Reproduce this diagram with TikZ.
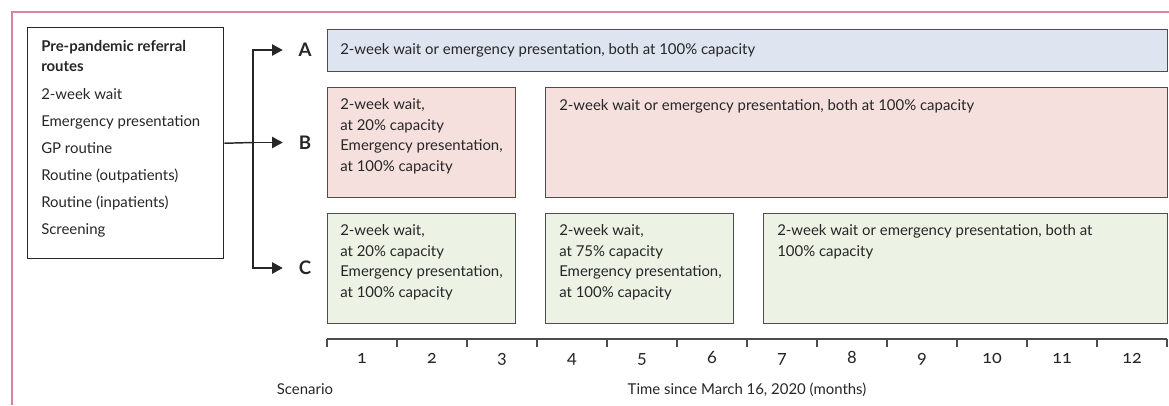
\documentclass[tikz,border=0pt]{standalone}
\usepackage{fontspec}
\setmainfont{Lato}
\usetikzlibrary{arrows.meta}
\definecolor{frameC}{HTML}{D9849C}
\definecolor{edgeC}{HTML}{4D4D4D}
\definecolor{fillA}{HTML}{DEE4F0}
\definecolor{fillB}{HTML}{F5E0DE}
\definecolor{fillC}{HTML}{ECF3E5}

\begin{document}
\begin{tikzpicture}
    [x=0.75pt,y=-0.75pt,
     every node/.style={font=\fontsize{11.2}{15.4}\selectfont, text=black!85, inner sep=0pt},
     bar/.style={draw=edgeC, line width=1.1pt, anchor=north west},
     bartext/.style={anchor=base west, align=left},
     scen/.style={font=\fontsize{14}{16}\selectfont\bfseries, minimum width=33pt},
     link/.style={line width=1.1pt, draw=black!85},
     tip/.style={link, -{Triangle[length=8pt,width=8.5pt]}},
     axis/.style={draw=edgeC, line width=1.1pt}]
    \useasboundingbox (0,0) rectangle (1169,405);
    \draw[frameC, line width=1.1pt] (12,405) -- (12,12) -- (1169,12);
    \node[draw=black!85, line width=1.1pt, anchor=north west, minimum width=147pt, minimum height=173.25pt] (routes) at (27,27) {};
    \node[anchor=base west, align=left, font=\fontsize{11.2}{15}\selectfont\bfseries] (title) at (41,71.5) {Pre-pandemic referral\\routes};
    \foreach \r [count=\i] in {2-week wait, Emergency presentation, GP routine, Routine (outpatients), Routine (inpatients), Screening}
    \node[anchor=base west] (r\i) at (41,72.5+27*\i) {\r};
    \foreach \n/\x/\y/\w/\h/\c in {barA/327/29/840/42/fillA, barB1/327/87/188/110/fillB, barB2/545/87/622/110/fillB, barC1/327/213/188/110/fillC, barC2/545/213/188/110/fillC, barC3/763/213/404/110/fillC}
    \node[bar, fill=\c, minimum width=\w*0.75pt, minimum height=\h*0.75pt] (\n) at (\x,\y) {};
    \node[bartext] (tA) at (340,54) {2-week wait or emergency presentation, both at 100\% capacity};
    \node[bartext] (tB1) at (340,171.5) {2-week wait,\\at 20\% capacity\\Emergency presentation,\\at 100\% capacity};
    \node[bartext] (tB2) at (559,110) {2-week wait or emergency presentation, both at 100\% capacity};
    \node[bartext] (tC1) at (340,297.5) {2-week wait,\\at 20\% capacity\\Emergency presentation,\\at 100\% capacity};
    \node[bartext] (tC2) at (559,297.5) {2-week wait,\\at 75\% capacity\\Emergency presentation,\\at 100\% capacity};
    \node[bartext] (tC3) at (777,256.5) {2-week wait or emergency presentation, both at\\100\% capacity};
    \node[scen] (sA) at (305,50) {A};
    \node[scen] (sB) at (305,142.5) {B};
    \node[scen] (sC) at (305,268) {C};
    \coordinate (split) at (253,142.5);
    \draw[link] (routes.east) -- (split);
    \foreach \s in {sA, sB, sC}
    \draw[tip] (split) |- (\s);
    \draw[axis] (327,339) -- (1167,339);
    \foreach \k in {0,...,12}
    \draw[axis] (327+70*\k,339) -- ++(0,8);
    \foreach \m in {1,...,12}
    \node[anchor=base, font=\fontsize{13.5}{15}\selectfont\addfontfeature{Numbers=OldStyle}] (m\m) at (292+70*\m,363.5) {\m};
    \node[anchor=base] (scenario) at (305,394.5) {Scenario};
    \node[anchor=base] (time) at (747,394.5) {Time since March 16, 2020 (months)};
\end{tikzpicture}
\end{document}
